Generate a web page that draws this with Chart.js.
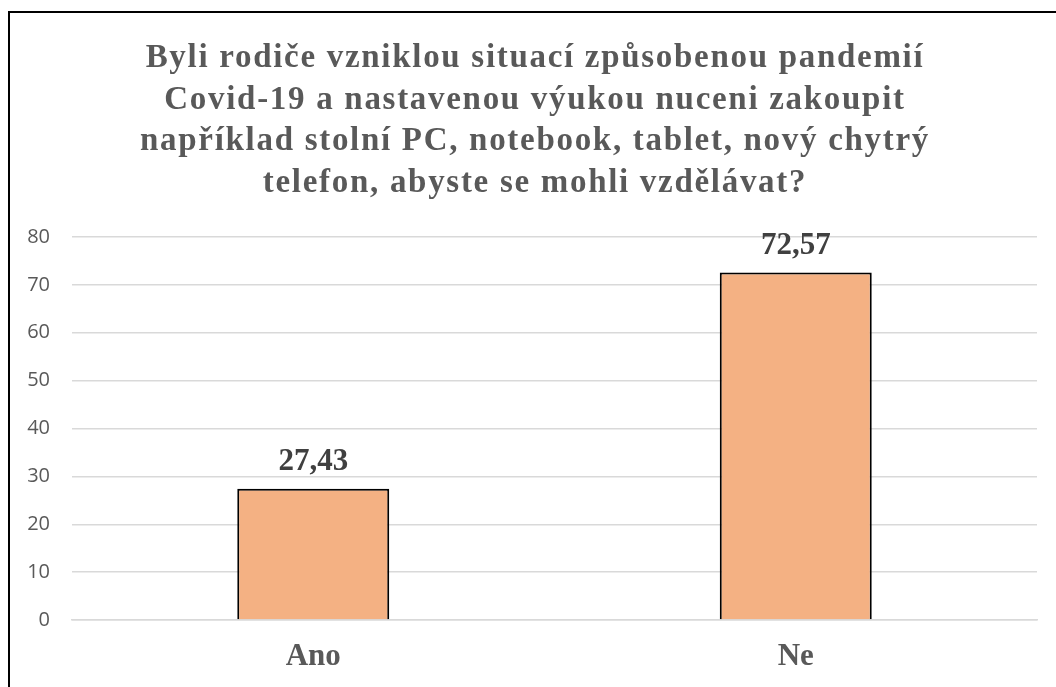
<!DOCTYPE html>
<html>
<head>
<meta charset="utf-8">
<script src="https://cdn.jsdelivr.net/npm/chart.js@4"></script>
<style>
  html, body { margin: 0; padding: 0; background: #fff; }
  #wrap { position: relative; width: 1056px; height: 687px; overflow: hidden; }
  #frame { position: absolute; left: 8px; top: 11px; width: 1100px; height: 800px;
           border-left: 2px solid #000; border-top: 2px solid #000; box-sizing: border-box; }
  canvas { position: absolute; left: 0; top: 0; }
</style>
</head>
<body>
<div id="wrap">
  <div id="frame"></div>
  <canvas id="c" width="1056" height="687"></canvas>
</div>
<script>
const titleLines = [
  "Byli rodiče vzniklou situací způsobenou pandemií",
  "Covid-19 a nastavenou výukou nuceni zakoupit",
  "například stolní PC, notebook, tablet, nový chytrý",
  "telefon, abyste se mohli vzdělávat?"
];
const categories = ["Ano", "Ne"];
const values = [27.43, 72.57];
const yTicks = [0, 10, 20, 30, 40, 50, 60, 70, 80];

const titlePlugin = {
  id: 'spacedTitle',
  afterDraw(chart) {
    const ctx = chart.ctx;
    ctx.save();
    ctx.font = 'bold 33px "Liberation Serif", "Times New Roman", serif';
    ctx.fillStyle = '#595959';
    ctx.textAlign = 'center';
    ctx.textBaseline = 'alphabetic';
    if ('letterSpacing' in ctx) ctx.letterSpacing = '1.7px';
    titleLines.forEach((line, i) => {
      ctx.fillText(line, 535, 67 + i * 41.7);
    });
    ctx.restore();
  }
};

const labelPlugin = {
  id: 'valueLabels',
  afterDatasetsDraw(chart) {
    const ctx = chart.ctx;
    const meta = chart.getDatasetMeta(0);
    ctx.save();
    ctx.font = 'bold 31px "Liberation Serif", "Times New Roman", serif';
    ctx.fillStyle = '#404040';
    ctx.textAlign = 'center';
    ctx.textBaseline = 'alphabetic';
    meta.data.forEach((bar, i) => {
      const txt = values[i].toFixed(2).replace('.', ',');
      ctx.fillText(txt, bar.x, bar.y - 19);
    });
    ctx.restore();
  }
};

new Chart(document.getElementById('c'), {
  type: 'bar',
  data: {
    labels: categories,
    datasets: [{
      data: values,
      backgroundColor: '#F4B183',
      borderColor: '#000000',
      borderWidth: 2,
      barPercentage: 0.63,
      categoryPercentage: 0.5
    }]
  },
  options: {
    responsive: false,
    animation: false,
    devicePixelRatio: 1,
    layout: { padding: { left: 0, right: 19, top: 237, bottom: 0 } },
    plugins: {
      legend: { display: false },
      tooltip: { enabled: false },
      title: { display: false }
    },
    scales: {
      y: {
        min: 0, max: 80,
        afterBuildTicks(scale) { scale.ticks = yTicks.map(v => ({ value: v })); },
        afterFit(scale) { scale.width = 72; },
        ticks: {
          color: '#595959',
          padding: 22,
          font: { family: '"Open Sans", "Liberation Sans", sans-serif', size: 20 }
        },
        grid: { color: '#d9d9d9', lineWidth: 1.5, drawTicks: false },
        border: { display: false }
      },
      x: {
        afterFit(scale) { scale.height = 67; },
        ticks: {
          color: '#595959',
          padding: 18,
          font: { family: '"Liberation Serif", "Times New Roman", serif', size: 31, weight: 'bold' }
        },
        grid: { display: false, drawTicks: false },
        border: { display: true, color: '#d9d9d9', width: 1.5 }
      }
    }
  },
  plugins: [labelPlugin, titlePlugin]
});
</script>
</body>
</html>
